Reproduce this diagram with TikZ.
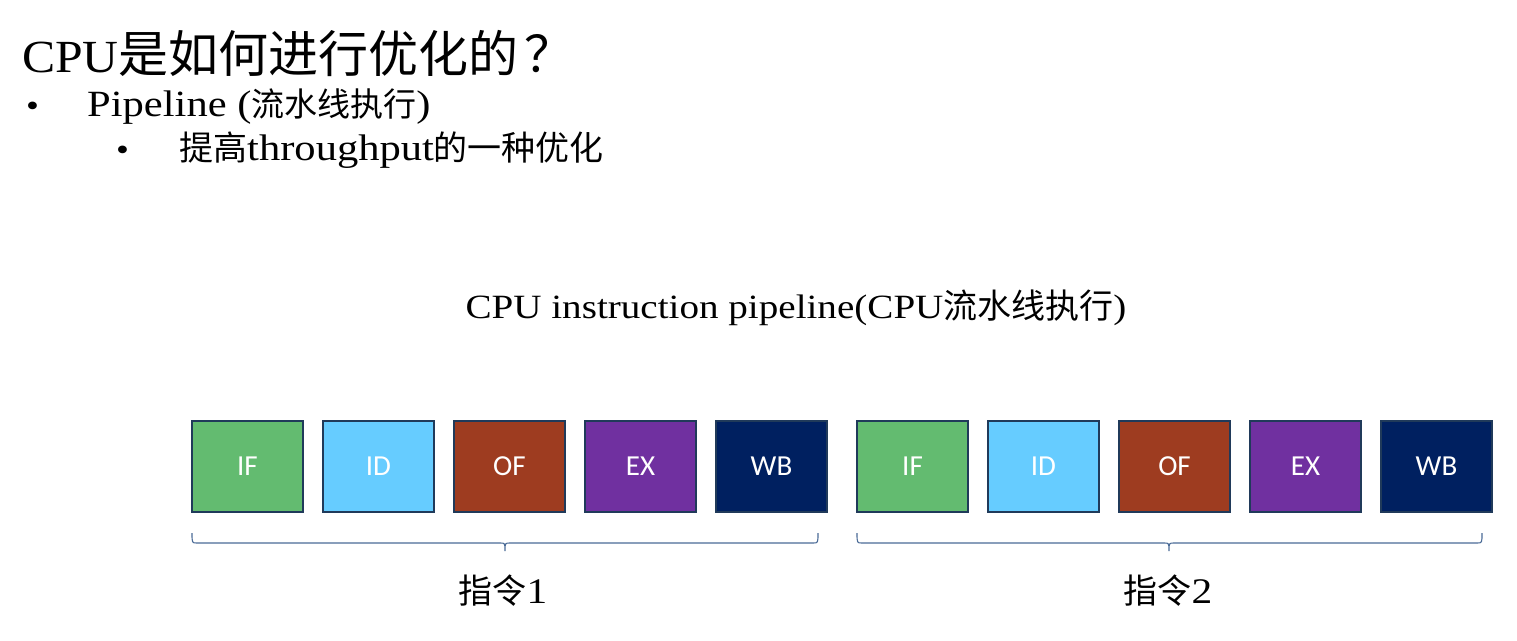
\documentclass[tikz,border=0pt]{standalone}
\usepackage{fontspec}
\setmainfont{Liberation Serif}[FakeStretch=1.15]
\newfontfamily\headlat{Liberation Serif}[FakeStretch=1.08]
\newfontfamily\cjk{Noto Sans CJK SC}
\newfontfamily\boxfont{Carlito}
\definecolor{cIF}{HTML}{63BB70}
\definecolor{cID}{HTML}{66CCFF}
\definecolor{cOF}{HTML}{9E3C20}
\definecolor{cEX}{HTML}{7030A0}
\definecolor{cWB}{HTML}{002060}
\definecolor{edge}{HTML}{203A5A}
\definecolor{bracec}{HTML}{4A6A96}
\newcommand{\cj}[2]{{\cjk\fontsize{#1bp}{#1bp}\selectfont #2}}
\tikzset{
  stage/.style={draw=edge, line width=1.5bp, minimum width=111bp, minimum height=91bp,
    inner sep=0pt, text=white, font=\boxfont\fontsize{29bp}{29bp}\selectfont},
  bracestyle/.style={draw=bracec, line width=1.1bp},
  txt/.style={inner sep=0pt, anchor=base west}
}
\begin{document}
\begin{tikzpicture}[x=1bp, y=-1bp]
\useasboundingbox (0,0) rectangle (1517,641);
% heading
\node[txt, font=\headlat\fontsize{46bp}{46bp}\selectfont] (head) at (22,73) {CPU\cj{50}{是如何进行优化的\hspace{6bp}？}};
\node[txt, font=\fontsize{32bp}{32bp}\selectfont] (b1) at (26,117) {•};
\node[txt, font=\fontsize{37bp}{37bp}\selectfont] (l1) at (87,117) {Pipeline (\cj{33}{流水线执行})};
\node[txt, font=\fontsize{32bp}{32bp}\selectfont] (b2) at (116,161) {•};
\node[txt, font=\fontsize{37bp}{37bp}\selectfont] (l2) at (179,161) {\cj{34}{提高}throughput\cj{34}{的一种优化}};
% title
\node[inner sep=0pt, anchor=base, font=\fontsize{34bp}{34bp}\selectfont] (title) at (796,318)
  {CPU instruction pipeline(CPU\cj{34}{流水线执行})};
% stages
\foreach \n/\lab/\col [count=\i from 0] in {a1/IF/cIF, a2/ID/cID, a3/OF/cOF, a4/EX/cEX, a5/WB/cWB,
                                           b1s/IF/cIF, b2s/ID/cID, b3s/OF/cOF, b4s/EX/cEX, b5s/WB/cWB} {
  \pgfmathsetmacro{\xx}{247.5 + 131*\i + (\i>4 ? 10 : 0)}
  \node[stage, fill=\col] (\n) at (\xx,466.5) {\lab};
}
% braces
\draw[bracestyle] (192,533) .. controls (192,543) .. (197,543) -- (500,543)
  .. controls (505,543) .. (505,551) .. controls (505,543) .. (510,543) -- (813,543)
  .. controls (818,543) .. (818,533);
\draw[bracestyle] (857,533) .. controls (857,543) .. (862,543) -- (1164,543)
  .. controls (1169,543) .. (1169,551) .. controls (1169,543) .. (1174,543) -- (1477,543)
  .. controls (1482,543) .. (1482,533);
\node[inner sep=0pt, anchor=base, font=\fontsize{36bp}{36bp}\selectfont] (ins1) at (503,603) {\cj{34}{指令}1};
\node[inner sep=0pt, anchor=base, font=\fontsize{36bp}{36bp}\selectfont] (ins2) at (1168,603) {\cj{34}{指令}2};
\end{tikzpicture}
\end{document}
